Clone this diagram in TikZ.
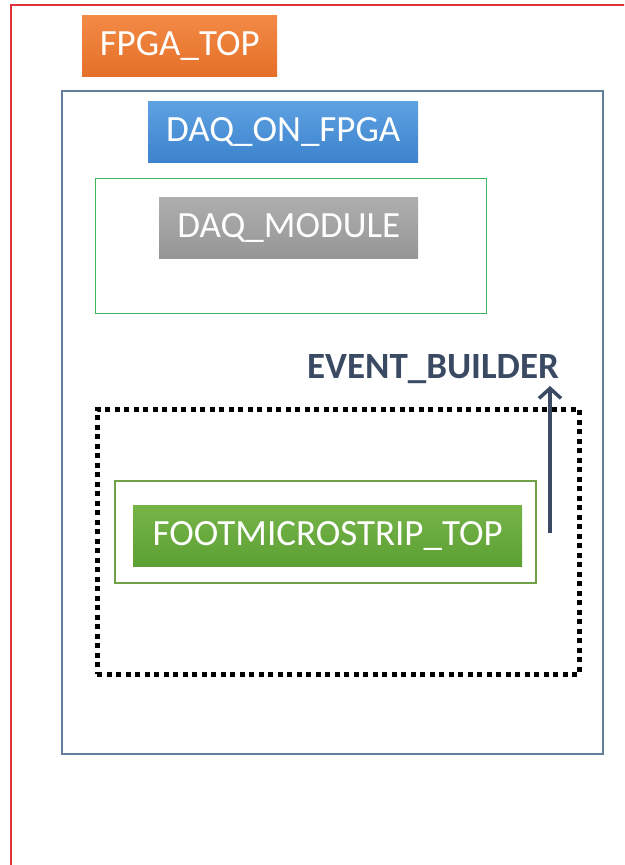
\documentclass[tikz,border=0pt]{standalone}
\usepackage{fontspec}
\setmainfont{Carlito}
\usetikzlibrary{arrows.meta}
\definecolor{framered}{HTML}{E2333C}
\definecolor{frameblue}{HTML}{627F9E}
\definecolor{framegreen}{HTML}{3DB55C}
\definecolor{frameolive}{HTML}{6FA045}
\definecolor{navy}{HTML}{3A4A63}
\tikzset{
  x=1pt, y=-1pt,
  label box/.style={anchor=north west, inner sep=0pt, text=white,
    font=\fontsize{37}{40}\selectfont, minimum height=61pt},
  frame box/.style={anchor=north west, inner sep=0pt},
}
\begin{document}
\begin{tikzpicture}
\useasboundingbox (0,0) rectangle (624,865);
\begin{scope}
\clip (0,0) rectangle (624,865);
\draw[framered, line width=1.5pt] (11,875) -- (11,5) -- (640,5);
\end{scope}

% FPGA_TOP tag
\node[label box, minimum width=195pt, top color={rgb,255:red,242;green,138;blue,70},
      bottom color={rgb,255:red,229;green,112;blue,40}] (fpgatop) at (82,15) {FPGA\_TOP};

% DAQ_ON_FPGA region
\node[frame box, draw=frameblue, line width=2pt, minimum width=541pt, minimum height=663pt] (daqframe) at (61,90) {};
\node[label box, minimum width=270pt, top color={rgb,255:red,95;green,162;blue,226},
      bottom color={rgb,255:red,60;green,131;blue,205}] (daqonfpga) at (148,101) {DAQ\_ON\_FPGA};

% DAQ_MODULE region
\node[frame box, draw=framegreen, line width=1.3pt, minimum width=391pt, minimum height=135pt] (modframe) at (95,178) {};
\node[label box, minimum width=259pt, top color={rgb,255:red,174;green,174;blue,174},
      bottom color={rgb,255:red,150;green,150;blue,150}] (daqmodule) at (159,197) {DAQ\_MODULE};

% EVENT_BUILDER region
\node[text=navy, font=\fontsize{37}{40}\selectfont\bfseries, inner sep=0pt] (eventbuilder) at (433,369) {EVENT\_BUILDER};
\node[frame box, draw=black, line width=4.5pt, dash pattern=on 5pt off 4.5pt,
      minimum width=482pt, minimum height=265pt] (ebframe) at (95,407) {};

% FOOTMICROSTRIP_TOP region
\node[frame box, draw=frameolive, line width=1.5pt, minimum width=421pt, minimum height=102pt] (footframe) at (114,480) {};
\node[label box, minimum width=389pt, top color={rgb,255:red,118;green,180;blue,72},
      bottom color={rgb,255:red,92;green,160;blue,52}] (foot) at (133,505) {FOOTMICROSTRIP\_TOP};

% data flow up to the event builder
\coordinate (flowstart) at (550,533);
\coordinate (flowend) at (550,386);
\draw[navy, line width=3.5pt, -{Straight Barb[length=10pt, width=22pt, line width=3.5pt]}] (flowstart) -- (flowend);
\end{tikzpicture}
\end{document}
